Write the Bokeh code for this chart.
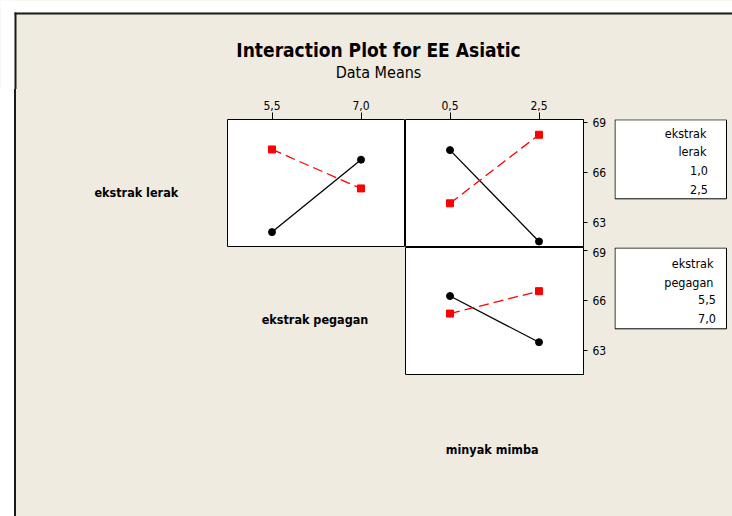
from bokeh.plotting import figure
from bokeh.layouts import column, row
from bokeh.models import (Range1d, FixedTicker, LinearAxis, Label, Legend,
                          LegendItem, BoxAnnotation, Div)
from bokeh.embed import file_html
from bokeh.resources import INLINE

# ---------------- data ----------------
title_text = "Interaction Plot for EE Asiatic"
subtitle_text = "Data Means"
factor_names = ["ekstrak lerak", "ekstrak pegagan", "minyak mimba"]

pegagan_levels = [5.5, 7.0]
pegagan_labels = ["5,5", "7,0"]
mimba_levels = [0.5, 2.5]
mimba_labels = ["0,5", "2,5"]
lerak_labels = ["1,0", "2,5"]
y_ticks = [63, 66, 69]

# means of EE Asiatic: ekstrak lerak (lines) vs ekstrak pegagan (x)
lerak10_by_pegagan = [62.42, 66.75]
lerak25_by_pegagan = [67.36, 65.03]
# ekstrak lerak (lines) vs minyak mimba (x)
lerak10_by_mimba = [67.32, 61.86]
lerak25_by_mimba = [64.14, 68.24]
# ekstrak pegagan (lines) vs minyak mimba (x)
pegagan55_by_mimba = [66.25, 63.49]
pegagan70_by_mimba = [65.20, 66.54]

# ---------------- styles ----------------
BG = "#EFEBE0"
EDGE = "#1a1a1a"
FONT = "DejaVu Sans Condensed"
Y_LO, Y_HI = 61.5, 69.15
STYLES = [("black", "circle", "solid"), ("#FF0000", "square", "10 5")]
TOP_BORDER = 30


def blank(w, h, top_border=0, color=BG):
    fh = h - top_border
    f = figure(width=w, height=h, x_range=Range1d(0, w), y_range=Range1d(fh, 0),
               x_axis_type=None, y_axis_type=None, output_backend="svg",
               toolbar_location=None, min_border_left=0, min_border_right=0,
               min_border_bottom=0, min_border_top=top_border)
    f.outline_line_color = None
    f.background_fill_color = color
    f.border_fill_color = color
    return f


def strip(w, h, color):
    return Div(text="", width=w, height=h, margin=0,
               styles={"background-color": color})


def box(f, left, right, top, bottom, color):
    f.add_layout(BoxAnnotation(left=left, right=right, top=top, bottom=bottom,
                               fill_color=color, fill_alpha=1.0, line_alpha=0))


def text(f, x, y, s, size, bold=False, align="center"):
    f.add_layout(Label(x=x, y=y, text=s, text_align=align, text_baseline="middle",
                       text_font=FONT, text_font_size=size,
                       text_font_style="bold" if bold else "normal",
                       text_color="black"))


def panel(levels, w, h, top_border, right_border):
    half = (levels[1] - levels[0]) / 2
    p = figure(width=w, height=h,
               x_range=Range1d(levels[0] - half, levels[1] + half),
               y_range=Range1d(Y_LO, Y_HI),
               x_axis_type=None, y_axis_type=None, output_backend="svg",
               toolbar_location=None, min_border_left=0, min_border_bottom=0,
               min_border_top=top_border, min_border_right=right_border)
    p.background_fill_color = "white"
    p.border_fill_color = BG
    p.outline_line_color = "black"
    p.outline_line_width = 1
    return p


def top_axis(p, ticks, labels):
    ax = LinearAxis(ticker=FixedTicker(ticks=ticks),
                    major_label_overrides={t: l for t, l in zip(ticks, labels)})
    ax.axis_line_color = None
    ax.major_tick_out = 7
    ax.major_tick_in = 0
    ax.minor_tick_out = 0
    ax.minor_tick_in = 0
    ax.major_tick_line_color = "black"
    ax.major_label_standoff = 3
    ax.major_label_text_font = FONT
    ax.major_label_text_font_size = "12px"
    ax.major_label_text_color = "black"
    p.add_layout(ax, "above")


def right_axis(p):
    ax = LinearAxis(ticker=FixedTicker(ticks=y_ticks))
    ax.axis_line_color = "black"
    ax.major_tick_out = 4
    ax.major_tick_in = 0
    ax.minor_tick_out = 0
    ax.minor_tick_in = 0
    ax.major_tick_line_color = "black"
    ax.major_label_standoff = 5
    ax.major_label_text_font = FONT
    ax.major_label_text_font_size = "12px"
    ax.major_label_text_color = "black"
    p.add_layout(ax, "right")


def series(p, xs, ys, style):
    color, marker, dash = style
    p.line(xs, ys, line_color=color, line_width=1.3, line_dash=dash)
    p.scatter(xs, ys, marker=marker, size=7, fill_color=color, line_color=color)


def legend_fig(w, h, top_border, box_top, box_bottom, title_lines, title_ys,
               title_right, labels, leg_bottom, standoff):
    f = blank(w, h, top_border)
    f.add_layout(BoxAnnotation(left=0.5, right=112, top=box_top, bottom=box_bottom,
                               fill_color="white", fill_alpha=1.0,
                               line_color="black", line_width=1, line_alpha=1.0))
    for t, yy in zip(title_lines, title_ys):
        text(f, title_right, yy, t, "12.5px", align="right")
    items = []
    for lab, (color, marker, _) in zip(labels, STYLES):
        rl = f.line([], [], line_color=color, line_width=1.3)
        rs = f.scatter([], [], marker=marker, size=7, fill_color=color, line_color=color)
        items.append(LegendItem(label=lab, renderers=[rl, rs]))
    leg = Legend(items=items, location=(6, leg_bottom), orientation="vertical",
                 glyph_width=36, glyph_height=19, label_height=19,
                 label_standoff=standoff, spacing=0, padding=0, margin=0,
                 border_line_alpha=0, background_fill_alpha=0,
                 label_text_font=FONT, label_text_font_size="12.5px",
                 label_text_color="black")
    f.add_layout(leg)
    return f


W = 732

# ---------------- title row (page y 0-89) ----------------
RTH = 89
row_t = blank(W, RTH)
box(row_t, 0, W, 0, 12, "white")
box(row_t, 0, 14, 0, RTH, "white")
box(row_t, 14, 16, 12, RTH, EDGE)
box(row_t, 14, W, 12, 14, EDGE)
text(row_t, 378, 49.7, title_text, "19px", bold=True)
text(row_t, 378, 72, subtitle_text, "16px")

# ---------------- row 1 (page y 89-247): lerak vs pegagan, lerak vs mimba ----------------
R1H = 158
l1 = blank(211, R1H, TOP_BORDER)
text(l1, 119.8, 72.5, factor_names[0], "12.5px", bold=True)

pa = panel(pegagan_levels, 178, R1H, TOP_BORDER, 0)
top_axis(pa, pegagan_levels, pegagan_labels)
series(pa, pegagan_levels, lerak10_by_pegagan, STYLES[0])
series(pa, pegagan_levels, lerak25_by_pegagan, STYLES[1])

pb = panel(mimba_levels, 209, R1H, TOP_BORDER, 31)
top_axis(pb, mimba_levels, mimba_labels)
right_axis(pb)
series(pb, mimba_levels, lerak10_by_mimba, STYLES[0])
series(pb, mimba_levels, lerak25_by_mimba, STYLES[1])

lg1 = legend_fig(118, R1H, TOP_BORDER, 0.3, 79.3, ["ekstrak", "lerak"], [13.7, 32], 92,
                 lerak_labels, 48, 34)

# ---------------- row 2 (page y 247-375): pegagan vs mimba ----------------
R2H = 128
l2 = blank(389, R2H)
text(l2, 298.5, 72, factor_names[1], "12.5px", bold=True)

pc = panel(mimba_levels, 209, R2H, 0, 31)
right_axis(pc)
series(pc, mimba_levels, pegagan55_by_mimba, STYLES[0])
series(pc, mimba_levels, pegagan70_by_mimba, STYLES[1])

lg2 = legend_fig(118, R2H, 0, 0.5, 81.3, ["ekstrak", "pegagan"], [16.3, 34.7], 99,
                 pegagan_labels, 47, 42)

# ---------------- row 3 (page y 375-516): x factor label ----------------
R3H = 141
row_b = blank(716, R3H)
text(row_b, 475.7, 74, factor_names[2], "12.5px", bold=True)

bg = {"background-color": BG}
BODY_H = R1H + R2H + R3H
body = column(row(l1, pa, pb, lg1, styles=bg),
              row(l2, pc, lg2, styles=bg),
              row_b, styles=bg)
layout = column(row_t,
                row(strip(14, BODY_H, "white"), strip(2, BODY_H, EDGE), body,
                    styles={"background-color": "white"}),
                styles={"background-color": "white"})

open("out.html", "w").write(file_html(layout, INLINE))
